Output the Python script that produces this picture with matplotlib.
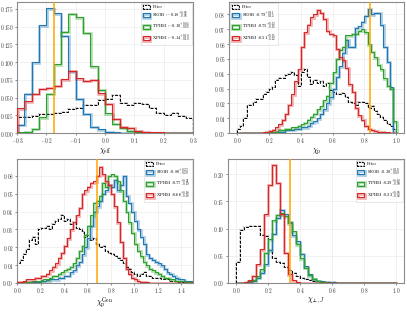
import numpy as np
import matplotlib
matplotlib.use("Agg")
import matplotlib.pyplot as plt
import matplotlib.patheffects as pe
from matplotlib.patches import Rectangle
from matplotlib.ticker import FuncFormatter

plt.rcParams["font.family"] = "serif"
plt.rcParams["font.serif"] = ["cmr10", "DejaVu Serif"]
plt.rcParams["mathtext.fontset"] = "cm"
plt.rcParams["axes.formatter.use_mathtext"] = True

# ---------------- data ----------------
series_names = ["Prior", "SEOB", "TPHM", "XPHM"]
series_colors = ["black", "#1f77b4", "#2ca02c", "#d62728"]

# chi_eff  (bins of 0.025 from -0.3 to 0.3)
chieff_start, chieff_width = -0.3, 0.025
chieff_prior = [0.023, 0.023, 0.024, 0.027, 0.027, 0.028, 0.029, 0.034, 0.036, 0.040, 0.040, 0.047,
                0.048, 0.054, 0.042, 0.040, 0.042, 0.041, 0.035, 0.028, 0.026, 0.028, 0.024, 0.021]
chieff_seob = [0.012, 0.055, 0.100, 0.152, 0.176, 0.169, 0.137, 0.087, 0.048, 0.027, 0.009, 0.005,
               0.002, 0.001, 0, 0, 0, 0, 0, 0, 0, 0, 0, 0]
chieff_tphm = [0.001, 0.002, 0.006, 0.022, 0.055, 0.097, 0.143, 0.168, 0.163, 0.141, 0.094, 0.061,
               0.028, 0.013, 0.007, 0.003, 0.001, 0, 0, 0, 0, 0, 0, 0]
chieff_xphm = [0.035, 0.045, 0.055, 0.062, 0.064, 0.067, 0.076, 0.088, 0.077, 0.074, 0.075, 0.056,
               0.041, 0.020, 0.009, 0.007, 0.003, 0.002, 0.001, 0.001, 0.0005, 0, 0, 0]
chieff_inj = -0.175
chieff_labels = ["Prior", r"SEOB :$-0.18^{+0.05}_{-0.05}$", r"TPHM :$-0.10^{+0.04}_{-0.05}$",
                 r"XPHM :$-0.14^{+0.10}_{-0.10}$"]

# chi_p (bins of 0.02 from 0 to 1)
chip_start, chip_width = 0.0, 0.02
chip_prior = [0.003, 0.005, 0.010, 0.019, 0.019, 0.021, 0.023, 0.023, 0.026, 0.028,
              0.030, 0.031, 0.036, 0.037, 0.037, 0.039, 0.040, 0.041, 0.039, 0.032,
              0.041, 0.043, 0.038, 0.033, 0.036, 0.034, 0.035, 0.032, 0.034, 0.029,
              0.028, 0.026, 0.026, 0.027, 0.024, 0.021, 0.020, 0.019, 0.021, 0.021,
              0.020, 0.017, 0.018, 0.015, 0.013, 0.011, 0.009, 0.006, 0.005, 0.003]
chip_seob = [0, 0, 0, 0, 0, 0, 0, 0, 0, 0,
             0, 0.0005, 0.001, 0.001, 0.001, 0.002, 0.002, 0.002, 0.003, 0.003,
             0.004, 0.004, 0.005, 0.007, 0.008, 0.010, 0.013, 0.016, 0.020, 0.024,
             0.030, 0.038, 0.045, 0.054, 0.063, 0.058, 0.058, 0.071, 0.072, 0.075,
             0.079, 0.084, 0.080, 0.081, 0.081, 0.073, 0.058, 0.048, 0.031, 0.0]
chip_tphm = [0, 0, 0, 0, 0, 0, 0, 0, 0, 0,
             0.0005, 0.001, 0.001, 0.002, 0.002, 0.003, 0.003, 0.004, 0.004, 0.005,
             0.006, 0.007, 0.009, 0.011, 0.013, 0.016, 0.018, 0.022, 0.025, 0.034,
             0.041, 0.050, 0.056, 0.058, 0.066, 0.066, 0.067, 0.067, 0.069, 0.070,
             0.068, 0.060, 0.055, 0.051, 0.046, 0.043, 0.037, 0.032, 0.030, 0.008]
chip_xphm = [0, 0, 0, 0, 0, 0, 0, 0, 0.0005, 0.001,
             0.0015, 0.002, 0.004, 0.006, 0.009, 0.013, 0.019, 0.026, 0.035, 0.043,
             0.058, 0.068, 0.073, 0.078, 0.080, 0.083, 0.081, 0.077, 0.069, 0.067,
             0.066, 0.057, 0.051, 0.049, 0.044, 0.033, 0.028, 0.017, 0.012, 0.009,
             0.005, 0.003, 0.002, 0.0015, 0.001, 0.001, 0.0005, 0.0005, 0, 0]
chip_inj = 0.834
chip_labels = ["Prior", r"SEOB :$0.79^{+0.11}_{-0.14}$", r"TPHM :$0.75^{+0.13}_{-0.15}$",
               r"XPHM :$0.51^{+0.15}_{-0.12}$"]

# chi_p^Gen (bins of 0.025 from 0 to 1.5)
chipg_start, chipg_width = 0.0, 0.025
chipg_prior = [0.011, 0.013, 0.016, 0.019, 0.024, 0.026, 0.022, 0.030, 0.031, 0.031,
               0.032, 0.030, 0.033, 0.035, 0.036, 0.038, 0.035, 0.036, 0.033, 0.034,
               0.031, 0.030, 0.029, 0.026, 0.027, 0.024, 0.025, 0.022, 0.020, 0.021,
               0.018, 0.017, 0.016, 0.015, 0.014, 0.013, 0.011, 0.009, 0.008, 0.006,
               0.005, 0.004, 0.005, 0.006, 0.004, 0.004, 0.003, 0.003, 0.003, 0.002,
               0.002, 0.002, 0.001, 0.001, 0.001, 0.0005, 0.0005, 0.0003, 0.0002, 0.0001]
chipg_seob = [0, 0, 0, 0, 0.0003, 0.0005, 0.0005, 0.0008, 0.001, 0.001,
              0.0015, 0.002, 0.002, 0.002, 0.003, 0.003, 0.004, 0.004, 0.006, 0.007,
              0.010, 0.012, 0.016, 0.020, 0.025, 0.032, 0.040, 0.043, 0.046, 0.050,
              0.052, 0.055, 0.054, 0.058, 0.052, 0.055, 0.060, 0.049, 0.045, 0.040,
              0.035, 0.030, 0.026, 0.022, 0.016, 0.014, 0.013, 0.012, 0.011, 0.010,
              0.008, 0.006, 0.005, 0.004, 0.003, 0.002, 0.002, 0.001, 0.001, 0.001]
chipg_tphm = [0.0003, 0.0003, 0.0005, 0.0005, 0.0008, 0.001, 0.001, 0.001, 0.0015, 0.002,
              0.002, 0.003, 0.004, 0.004, 0.005, 0.006, 0.007, 0.008, 0.009, 0.011,
              0.014, 0.018, 0.021, 0.027, 0.032, 0.038, 0.045, 0.046, 0.049, 0.056,
              0.054, 0.060, 0.061, 0.060, 0.057, 0.052, 0.046, 0.040, 0.034, 0.028,
              0.022, 0.018, 0.015, 0.012, 0.010, 0.008, 0.007, 0.006, 0.005, 0.004,
              0.003, 0.003, 0.002, 0.002, 0.001, 0.001, 0.001, 0.0005, 0.0005, 0.0003]
chipg_xphm = [0.0005, 0.0005, 0.001, 0.002, 0.002, 0.002, 0.003, 0.003, 0.004, 0.004,
              0.005, 0.007, 0.009, 0.011, 0.014, 0.017, 0.021, 0.025, 0.030, 0.034,
              0.038, 0.042, 0.050, 0.052, 0.054, 0.056, 0.057, 0.060, 0.065, 0.061,
              0.057, 0.055, 0.050, 0.043, 0.034, 0.023, 0.014, 0.008, 0.005, 0.003,
              0.002, 0.001, 0.0005, 0.0005, 0.0003, 0.0002, 0, 0, 0, 0,
              0, 0, 0, 0, 0, 0, 0, 0, 0, 0]
chipg_inj = 0.68
chipg_labels = ["Prior", r"SEOB :$0.80^{+0.23}_{-0.20}$", r"TPHM :$0.77^{+0.21}_{-0.19}$",
                r"XPHM :$0.66^{+0.16}_{-0.18}$"]

# chi_perp,J (bins of 0.025 from 0 to 1)
chiperp_start, chiperp_width = 0.0, 0.025
chiperp_prior = [0.038, 0.097, 0.103, 0.105, 0.105, 0.104, 0.088, 0.086, 0.060, 0.046,
                 0.038, 0.036, 0.030, 0.024, 0.019, 0.013, 0.010, 0.008, 0.006, 0.004,
                 0.003, 0.002, 0.0015, 0.001, 0.001, 0.0005, 0.0005, 0.0003, 0.0002, 0.0001,
                 0, 0, 0, 0, 0, 0, 0, 0, 0, 0]
chiperp_seob = [0, 0.0005, 0.001, 0.002, 0.004, 0.009, 0.019, 0.034, 0.060, 0.090,
                0.120, 0.135, 0.126, 0.112, 0.088, 0.077, 0.054, 0.031, 0.016, 0.008,
                0.004, 0.003, 0.002, 0.001, 0.001, 0.0005, 0.0005, 0.0003, 0, 0,
                0, 0, 0, 0, 0, 0, 0, 0, 0, 0]
chiperp_tphm = [0, 0.0005, 0.001, 0.003, 0.006, 0.012, 0.025, 0.055, 0.080, 0.115,
                0.125, 0.128, 0.123, 0.110, 0.095, 0.071, 0.045, 0.028, 0.014, 0.008,
                0.004, 0.002, 0.001, 0.0005, 0.0003, 0, 0, 0, 0, 0,
                0, 0, 0, 0, 0, 0, 0, 0, 0, 0]
chiperp_xphm = [0, 0, 0.001, 0.005, 0.013, 0.034, 0.062, 0.126, 0.181, 0.217,
                0.184, 0.126, 0.055, 0.016, 0.005, 0.001, 0, 0, 0, 0,
                0, 0, 0, 0, 0, 0, 0, 0, 0, 0,
                0, 0, 0, 0, 0, 0, 0, 0, 0, 0]
chiperp_inj = 0.34
chiperp_labels = ["Prior", r"SEOB :$0.30^{+0.10}_{-0.09}$", r"TPHM :$0.29^{+0.10}_{-0.09}$",
                  r"XPHM :$0.23^{+0.05}_{-0.06}$"]

panels = [
    dict(start=chieff_start, width=chieff_width,
         vals=[chieff_prior, chieff_seob, chieff_tphm, chieff_xphm], inj=chieff_inj,
         labels=chieff_labels, xlabel=r"$\chi_{\rm eff}$", xlim=(-0.3, 0.3), ylim=(0, 0.185),
         xticks=[-0.3, -0.2, -0.1, 0.0, 0.1, 0.2, 0.3], ydec=3,
         yticks=[0, 0.025, 0.05, 0.075, 0.1, 0.125, 0.15, 0.175], loc="upper right",
         pos=[0.042, 0.575, 0.432, 0.419], laby=-0.097),
    dict(start=chip_start, width=chip_width,
         vals=[chip_prior, chip_seob, chip_tphm, chip_xphm], inj=chip_inj,
         labels=chip_labels, xlabel=r"$\chi_{\rm p}$", xlim=(-0.05, 1.05), ylim=(0, 0.0885),
         xticks=[0, 0.2, 0.4, 0.6, 0.8, 1.0], ydec=2,
         yticks=[0, 0.01, 0.02, 0.03, 0.04, 0.05, 0.06, 0.07, 0.08], loc="upper left",
         pos=[0.563, 0.575, 0.430, 0.419], laby=-0.097),
    dict(start=chipg_start, width=chipg_width,
         vals=[chipg_prior, chipg_seob, chipg_tphm, chipg_xphm], inj=chipg_inj,
         labels=chipg_labels, xlabel=r"$\chi_{\rm p}^{\rm Gen}$", xlim=(0, 1.5), ylim=(0, 0.0695),
         xticks=[0, 0.2, 0.4, 0.6, 0.8, 1.0, 1.2, 1.4], ydec=2,
         yticks=[0, 0.01, 0.02, 0.03, 0.04, 0.05, 0.06], loc="upper right",
         pos=[0.042, 0.096, 0.432, 0.396], laby=-0.10),
    dict(start=chiperp_start, width=chiperp_width,
         vals=[chiperp_prior, chiperp_seob, chiperp_tphm, chiperp_xphm], inj=chiperp_inj,
         labels=chiperp_labels, xlabel=r"$\chi_{\perp,J}$", xlim=(-0.05, 1.05), ylim=(0, 0.228),
         xticks=[0, 0.2, 0.4, 0.6, 0.8, 1.0], ydec=2,
         yticks=[0, 0.05, 0.1, 0.15, 0.2], loc="upper right",
         pos=[0.560, 0.096, 0.433, 0.396], laby=-0.10),
]


def fmt_factory(dec):
    return FuncFormatter(lambda v, pos: ("$%." + str(dec) + "f$") % v)


fig = plt.figure(figsize=(4.07, 3.13), dpi=100)

for p in panels:
    ax = fig.add_axes(p["pos"])
    n = len(p["vals"][0])
    edges = p["start"] + p["width"] * np.arange(n + 1)
    handles = []
    for k, (vals, col, lab) in enumerate(zip(p["vals"], series_colors, p["labels"])):
        if k == 0:
            effects = [pe.Stroke(linewidth=1.4, foreground="#999999", alpha=0.5), pe.Normal()]
            ax.stairs(vals, edges, color=col, linestyle=(0, (3, 1.5)), linewidth=0.7,
                      zorder=2, path_effects=effects)
            h = Rectangle((0, 0), 1, 1, facecolor="none", edgecolor=col, linewidth=0.7,
                          linestyle=(0, (2, 1)), label=lab, path_effects=effects)
        else:
            effects = [pe.Stroke(linewidth=2.0, foreground=col, alpha=0.35, offset=(0.3, -0.3)),
                       pe.Normal()]
            ax.stairs(vals, edges, color=col, linewidth=0.8, zorder=3, path_effects=effects)
            h = Rectangle((0, 0), 1, 1, facecolor="none", edgecolor=col, linewidth=0.8,
                          label=lab, path_effects=effects)
        handles.append(h)
    ax.axvline(p["inj"], color="#FFA500", linewidth=1.1, zorder=4)
    ax.set_xlim(*p["xlim"])
    ax.set_ylim(*p["ylim"])
    ax.set_xticks(p["xticks"])
    ax.set_yticks(p["yticks"])
    ax.xaxis.set_major_formatter(fmt_factory(1))
    ax.yaxis.set_major_formatter(fmt_factory(p["ydec"]))
    ax.tick_params(labelsize=3.8, length=1.5, width=0.4, pad=1.0, colors="#333333")
    ax.grid(True, color="#e6e6e6", linewidth=0.4, zorder=0)
    ax.set_axisbelow(True)
    for s in ax.spines.values():
        s.set_color("#8c8c8c")
        s.set_linewidth(0.8)
    ax.set_xlabel(p["xlabel"], fontsize=5.6)
    ax.xaxis.set_label_coords(0.5, p["laby"])
    ax.xaxis.label.set_verticalalignment("top")
    leg = ax.legend(handles=handles, loc=p["loc"], fontsize=3.2, frameon=True,
                    handlelength=1.6, handleheight=1.0, borderpad=0.35, labelspacing=0.05,
                    handletextpad=0.6, fancybox=False, borderaxespad=0.3)
    leg.get_frame().set_linewidth(0.4)
    leg.get_frame().set_edgecolor("#cccccc")

fig.savefig("out.png", dpi=100)
